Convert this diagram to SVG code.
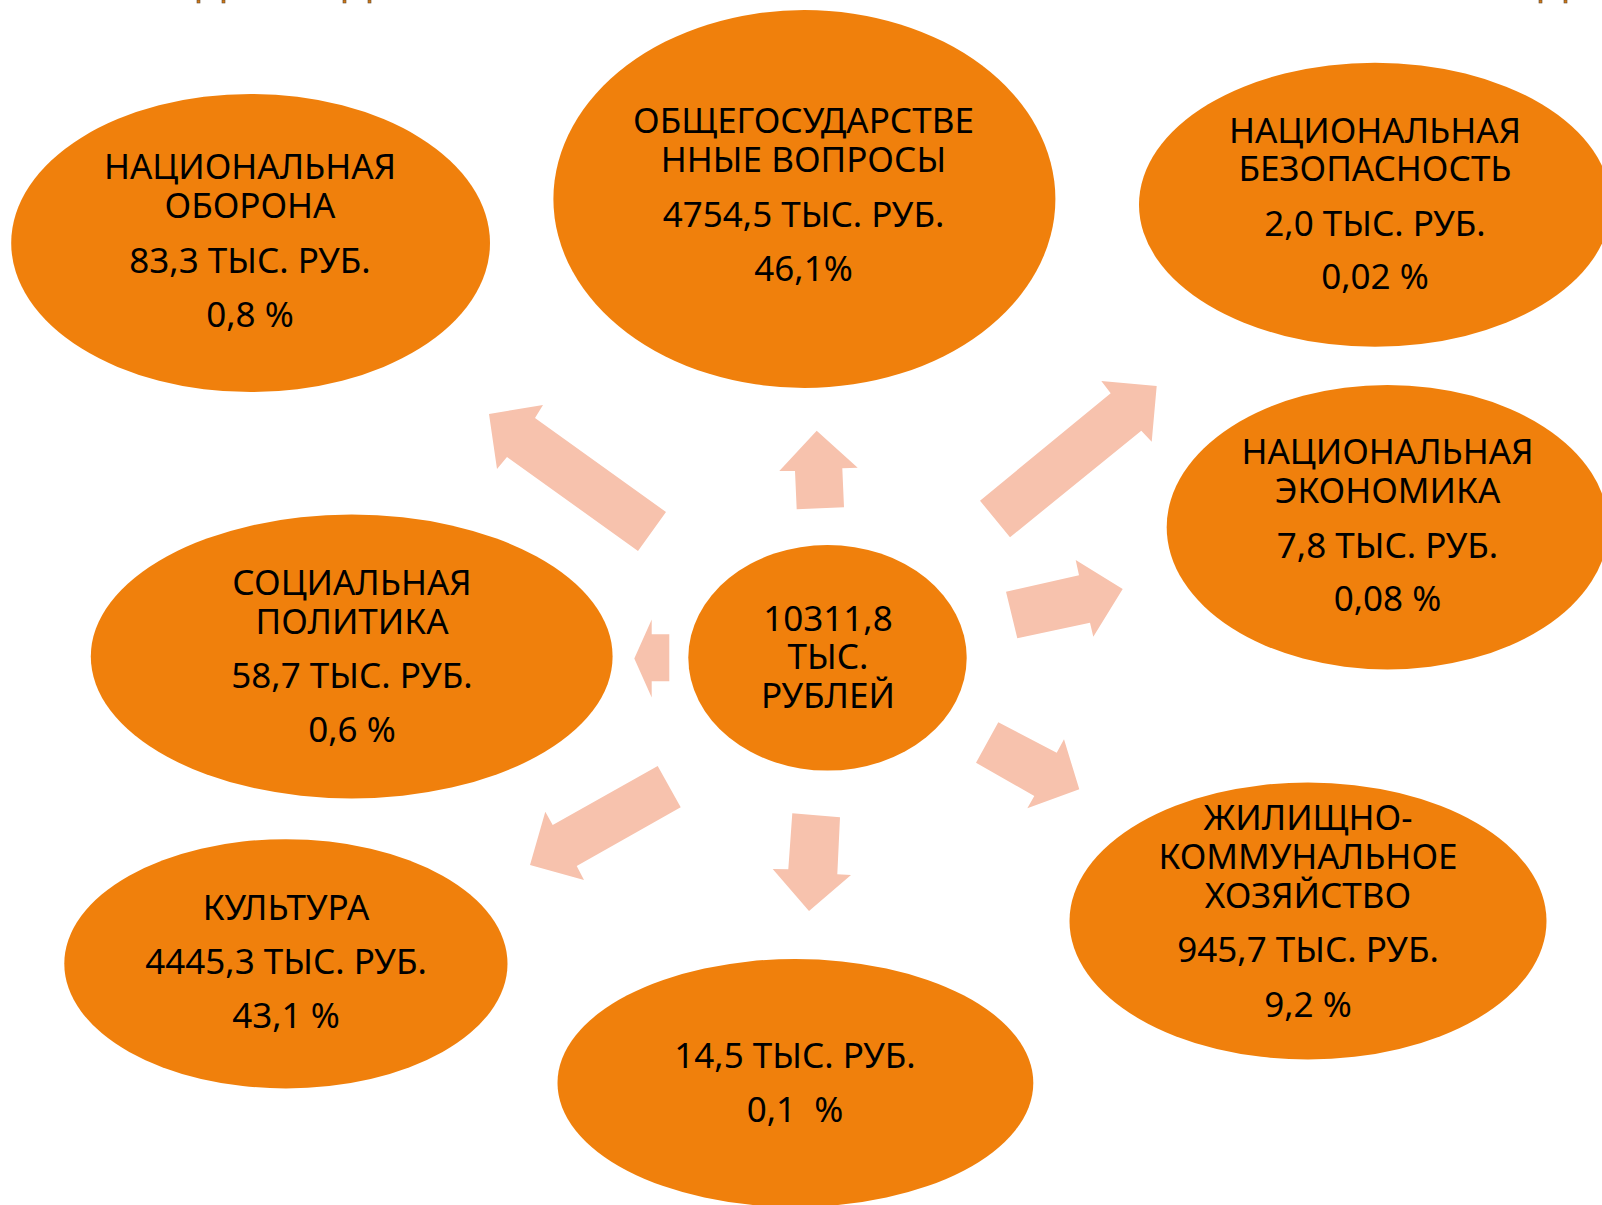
<svg xmlns="http://www.w3.org/2000/svg" width="1602" height="1205" viewBox="0 0 1602 1205">
<style>
.node{fill:#F0800C;}
.arrow{fill:#F7C2AD;}
.t{font-family:"Noto Sans","DejaVu Sans",sans-serif;font-size:35px;fill:#000;text-anchor:middle;}
.mark{fill:#D87A10;stroke:#5a4a3a;stroke-width:0.6;}
</style>
<rect width="1602" height="1205" fill="#fff"/>
<g id="marks">
<rect class="mark" x="197" y="0" width="3" height="3"/>
<rect class="mark" x="222" y="0" width="3" height="3"/>
<rect class="mark" x="343" y="0" width="3" height="3"/>
<rect class="mark" x="368" y="0" width="3" height="3"/>
<rect class="mark" x="1539" y="0" width="3" height="3"/>
<rect class="mark" x="1564" y="0" width="3" height="3"/>
</g>
<g id="connectors">
<polygon class="arrow" points="489,414 543,405 535,418 666,512 638,551 507,457 497,469"/>
<polygon class="arrow" points="816.7,430.7 857.7,467.7 842.3,468.3 844,507.3 796.7,509.3 795,471 779.3,471"/>
<polygon class="arrow" points="1156.7,386 1101.3,381 1110.7,393.3 980,500.7 1010,537.3 1141.3,430.7 1151.7,441.7"/>
<polygon class="arrow" points="1006,591.7 1079,575.3 1075.7,560 1122.7,589 1093.3,636.7 1090,622.7 1017.3,638.3"/>
<polygon class="arrow" points="634.3,658.5 651.7,619.5 651.7,634.3 669.3,634.3 669.3,681.3 651.7,681.3 651.7,697.5"/>
<polygon class="arrow" points="998.3,722.3 1056.7,752.7 1064,739.3 1079.3,789.3 1027.3,808.3 1034.3,796 976,762.7"/>
<polygon class="arrow" points="657.7,766 680.7,807.3 576.7,866 584,880 530,865 545.3,811.7 552.7,825"/>
<polygon class="arrow" points="792.3,813.3 840,817.3 837.3,874.3 851,875 809,911 772.7,869 788.3,869.3"/>
</g>
<g id="node-center">
<ellipse class="node" cx="827.5" cy="657.8" rx="139.2" ry="112.8"/>
<text class="t" x="828" y="630.7">10311,8</text>
<text class="t" x="828" y="669.3">ТЫС.</text>
<text class="t" x="828" y="708.3">РУБЛЕЙ</text>
</g>
<g id="node-oborona">
<ellipse class="node" cx="250.6" cy="243" rx="239.4" ry="149"/>
<text class="t" x="250" y="178.7">НАЦИОНАЛЬНАЯ</text>
<text class="t" x="250" y="218">ОБОРОНА</text>
<text class="t" x="250" y="272.6">83,3 ТЫС. РУБ.</text>
<text class="t" x="250" y="326.7">0,8 %</text>
</g>
<g id="node-obshchegos">
<ellipse class="node" cx="804.4" cy="199" rx="251" ry="189"/>
<text class="t" x="803.5" y="132.7">ОБЩЕГОСУДАРСТВЕ</text>
<text class="t" x="803.5" y="171.5">ННЫЕ ВОПРОСЫ</text>
<text class="t" x="803.5" y="226.7">4754,5 ТЫС. РУБ.</text>
<text class="t" x="803.5" y="280.8">46,1%</text>
</g>
<g id="node-bezopasnost">
<ellipse class="node" cx="1375" cy="204.7" rx="236" ry="142"/>
<text class="t" x="1375" y="142.7">НАЦИОНАЛЬНАЯ</text>
<text class="t" x="1375" y="181">БЕЗОПАСНОСТЬ</text>
<text class="t" x="1375" y="236">2,0 ТЫС. РУБ.</text>
<text class="t" x="1375" y="289.3">0,02 %</text>
</g>
<g id="node-ekonomika">
<ellipse class="node" cx="1387.5" cy="527.2" rx="220.8" ry="142.2"/>
<text class="t" x="1387.5" y="464">НАЦИОНАЛЬНАЯ</text>
<text class="t" x="1387.5" y="503.3">ЭКОНОМИКА</text>
<text class="t" x="1387.5" y="557.7">7,8 ТЫС. РУБ.</text>
<text class="t" x="1387.5" y="610.7">0,08 %</text>
</g>
<g id="node-socpolitika">
<ellipse class="node" cx="351.7" cy="656.5" rx="260.9" ry="141.9"/>
<text class="t" x="352" y="595.2">СОЦИАЛЬНАЯ</text>
<text class="t" x="352" y="634">ПОЛИТИКА</text>
<text class="t" x="352" y="688.2">58,7 ТЫС. РУБ.</text>
<text class="t" x="352" y="742.3">0,6 %</text>
</g>
<g id="node-kultura">
<ellipse class="node" cx="285.9" cy="963.8" rx="221.6" ry="124.6"/>
<text class="t" x="286" y="920">КУЛЬТУРА</text>
<text class="t" x="286" y="974">4445,3 ТЫС. РУБ.</text>
<text class="t" x="286" y="1028.1">43,1 %</text>
</g>
<g id="node-bottom">
<ellipse class="node" cx="795.4" cy="1083" rx="237.9" ry="124"/>
<text class="t" x="795" y="1068">14,5 ТЫС. РУБ.</text>
<text class="t" x="795" y="1122" xml:space="preserve">0,1  %</text>
</g>
<g id="node-zhkh">
<ellipse class="node" cx="1308" cy="921" rx="238.5" ry="138.5"/>
<text class="t" x="1308" y="830">ЖИЛИЩНО-</text>
<text class="t" x="1308" y="868.9">КОММУНАЛЬНОЕ</text>
<text class="t" x="1308" y="907.7">ХОЗЯЙСТВО</text>
<text class="t" x="1308" y="961.8">945,7 ТЫС. РУБ.</text>
<text class="t" x="1308" y="1017">9,2 %</text>
</g>
</svg>
